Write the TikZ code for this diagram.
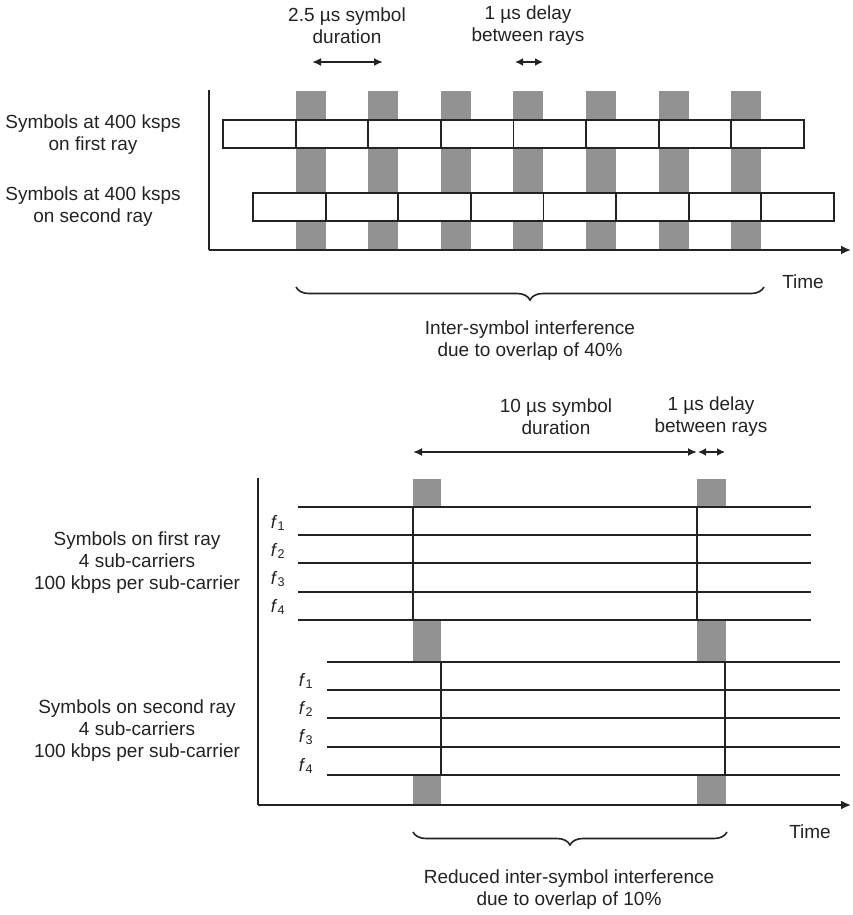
\documentclass[tikz,border=0pt]{standalone}
\usepackage{fontspec}
\setmainfont{Liberation Sans}
\usetikzlibrary{arrows.meta,decorations.pathreplacing}
\definecolor{bargray}{RGB}{146,146,146}
\definecolor{ink}{RGB}{35,35,35}
\begin{document}
\begin{tikzpicture}[x=1pt,y=-1pt,
  lbl/.style={font=\fontsize{19}{22}\selectfont, text=ink, align=center, inner sep=0pt},
  flbl/.style={font=\fontsize{18}{20}\selectfont, text=ink, inner sep=0pt},
  bar/.style={fill=bargray, draw=none},
  sym/.style={draw=ink, fill=white, line width=1.8pt},
  sub/.style={draw=ink, line width=1.8pt},
  ax/.style={draw=ink, line width=1.8pt},
  axarrow/.style={ax, -{Latex[length=10pt,width=9pt]}},
  dim/.style={draw=ink, line width=1.8pt, {Latex[length=9pt,width=8pt]}-{Latex[length=9pt,width=8pt]}},
  dimsmall/.style={draw=ink, line width=1.8pt, {Latex[length=8pt,width=8pt]}-{Latex[length=8pt,width=8pt]}},
  brc/.style={draw=ink, line width=1.6pt, decorate, decoration={brace, mirror, amplitude=13pt}}]
\useasboundingbox[fill=white] (0,0) rectangle (853,915);

% ================= TOP PANEL =================
% gray overlap bars
\foreach \k in {0,...,6} {
  \fill[bargray] ({295.6+72.6*\k},91) rectangle ({325.6+72.6*\k},250);
}
% first ray symbols
\foreach \k in {0,...,7} {
  \draw[sym] ({223+72.6*\k},120) rectangle ({295.6+72.6*\k},148);
}
% second ray symbols
\foreach \k in {0,...,7} {
  \draw[sym] ({253+72.6*\k},193) rectangle ({325.6+72.6*\k},221);
}
% axes
\coordinate (tyt) at (209,90);
\coordinate (to) at (209,250);
\coordinate (txe) at (851,250);
\draw[ax] (tyt) -- (to);
\draw[axarrow] (to) -- (txe);

% labels
\node[lbl] (tsym) at (347,26) {2.5 µs symbol\\duration};
\node[lbl] (tdel) at (528,26) {1 µs delay\\between rays};
\coordinate (tsa) at (312,62);
\coordinate (tsb) at (383,62);
\coordinate (tda) at (515,62);
\coordinate (tdb) at (543,62);
\draw[dim] (tsa) -- (tsb);
\draw[dimsmall] (tda) -- (tdb);

\node[lbl] (tr1) at (93,135) {Symbols at 400 ksps\\on first ray};
\node[lbl] (tr2) at (93,207) {Symbols at 400 ksps\\on second ray};
\node[lbl] (ttime) at (803,282) {Time};

\coordinate (tba) at (296,287);
\coordinate (tbb) at (764,287);
\draw[brc] (tba) -- (tbb);
\node[lbl] (tisi) at (530,341) {Inter-symbol interference\\due to overlap of 40\%};

% ================= BOTTOM PANEL =================
\node[lbl] (bsym) at (556,417) {10 µs symbol\\duration};
\node[lbl] (bdel) at (711,417) {1 µs delay\\between rays};
\coordinate (bsa) at (413,452);
\coordinate (bsb) at (697,452);
\coordinate (bda) at (698,452);
\coordinate (bdb) at (725,452);
\draw[dim] (bsa) -- (bsb);
\draw[dimsmall] (bda) -- (bdb);

% gray bars
\foreach \xa/\xb in {413/441, 697/726} {
  \fill[bargray] (\xa,479) rectangle (\xb,507);
  \fill[bargray] (\xa,620) rectangle (\xb,662);
  \fill[bargray] (\xa,775) rectangle (\xb,805);
}

% first ray sub-carriers
\foreach \y in {507,535,563,592,620} {
  \draw[sub] (298,\y) -- (811,\y);
}
\draw[sub] (413,507) -- (413,620);
\draw[sub] (697,507) -- (697,620);
\node[flbl] (f11) at (278,523) {\textit{f}\textsubscript{1}};
\node[flbl] (f12) at (278,551) {\textit{f}\textsubscript{2}};
\node[flbl] (f13) at (278,579) {\textit{f}\textsubscript{3}};
\node[flbl] (f14) at (278,607) {\textit{f}\textsubscript{4}};

% second ray sub-carriers
\foreach \y in {662,690,718,747,775} {
  \draw[sub] (327,\y) -- (840,\y);
}
\draw[sub] (441,662) -- (441,775);
\draw[sub] (725,662) -- (725,775);
\node[flbl] (f21) at (306,681) {\textit{f}\textsubscript{1}};
\node[flbl] (f22) at (306,709) {\textit{f}\textsubscript{2}};
\node[flbl] (f23) at (306,737) {\textit{f}\textsubscript{3}};
\node[flbl] (f24) at (306,766) {\textit{f}\textsubscript{4}};

% axes
\coordinate (byt) at (258,478);
\coordinate (bo) at (258,805);
\coordinate (bxe) at (851,805);
\draw[ax] (byt) -- (bo);
\draw[axarrow] (bo) -- (bxe);

\node[lbl] (br1) at (137,563) {Symbols on first ray\\4 sub-carriers\\100 kbps per sub-carrier};
\node[lbl] (br2) at (137,731) {Symbols on second ray\\4 sub-carriers\\100 kbps per sub-carrier};
\node[lbl] (btime) at (810,832) {Time};

\coordinate (bba) at (413,832);
\coordinate (bbb) at (727,832);
\draw[brc] (bba) -- (bbb);
\node[lbl] (bisi) at (569,890) {Reduced inter-symbol interference\\due to overlap of 10\%};
\end{tikzpicture}
\end{document}
